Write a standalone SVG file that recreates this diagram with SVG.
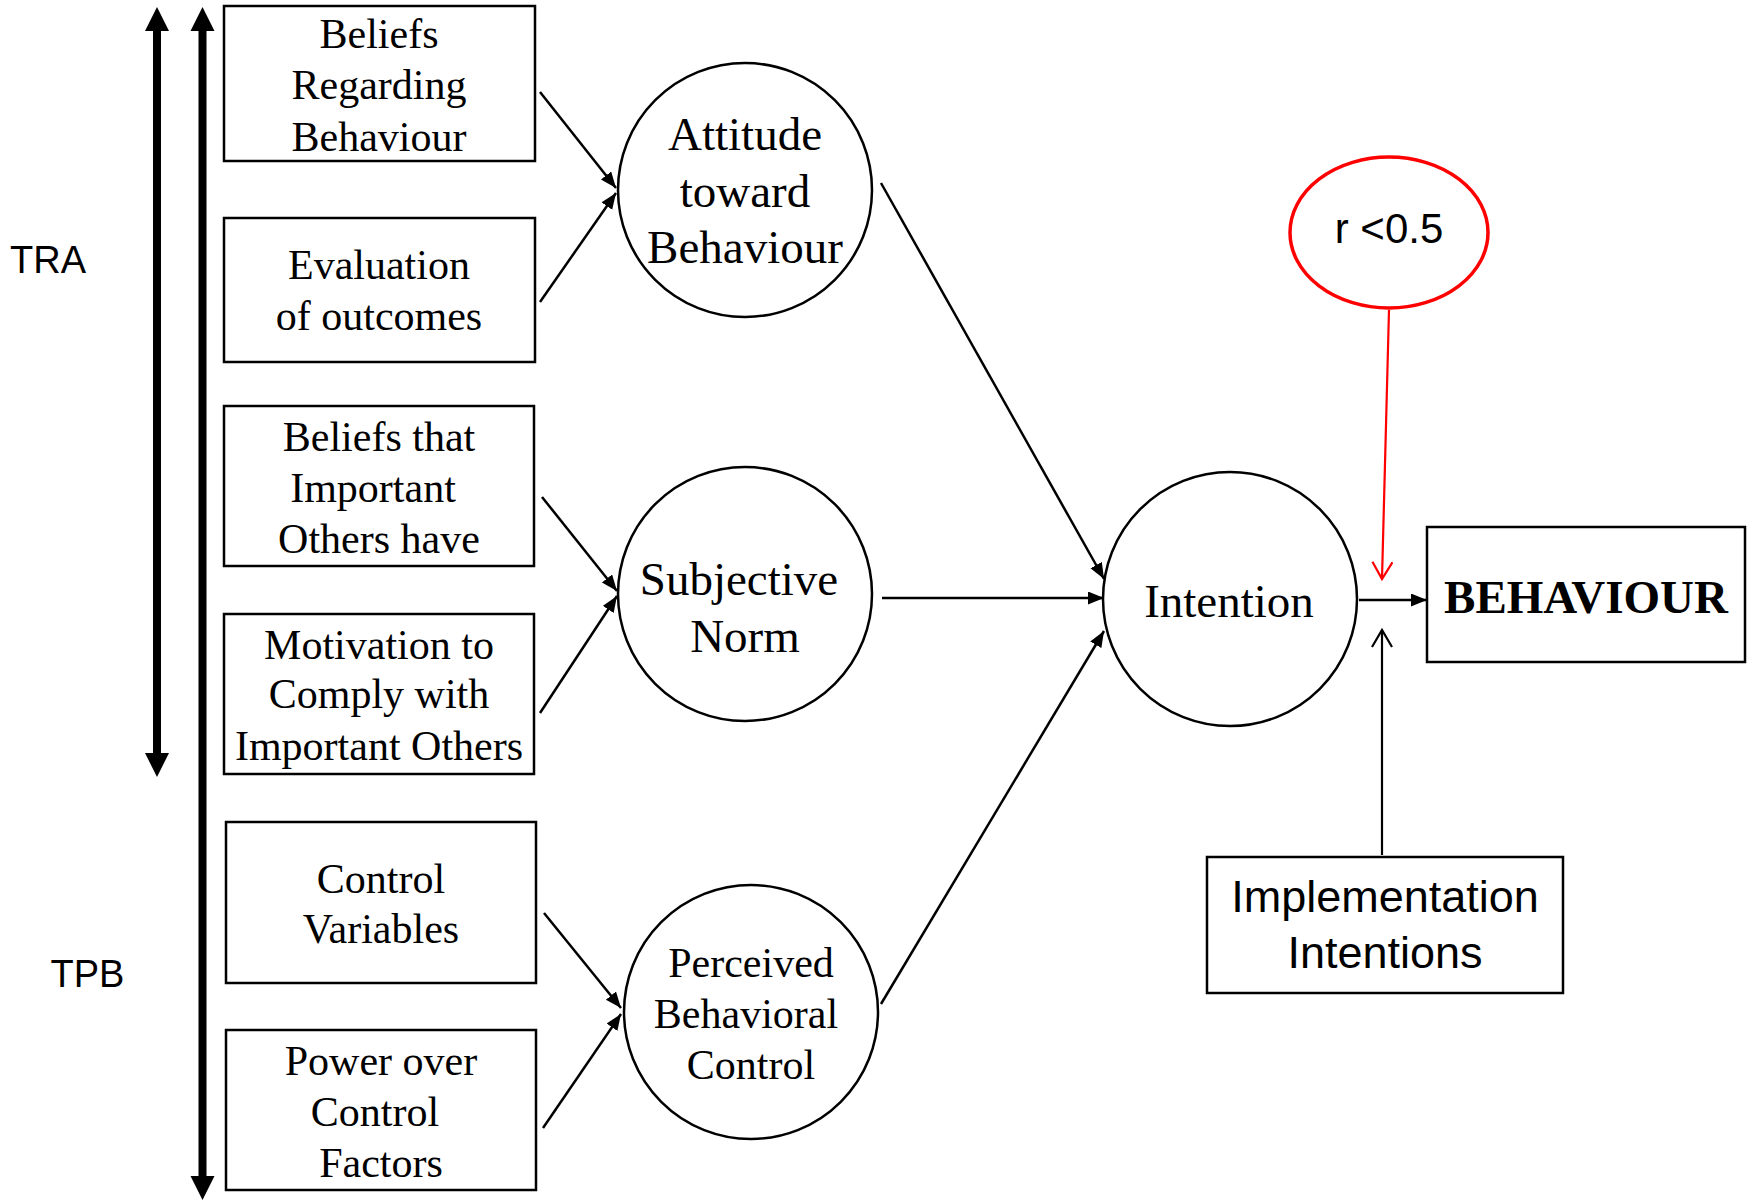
<svg xmlns="http://www.w3.org/2000/svg" width="1752" height="1201" viewBox="0 0 1752 1201">
  <style>
    .box { fill: #fff; stroke: #000; stroke-width: 2.5; }
    .node { fill: #fff; stroke: #000; stroke-width: 2.5; }
    .serif { font-family: "Liberation Serif", "Times New Roman", serif; fill: #000; text-anchor: middle; }
    .sans { font-family: "Liberation Sans", Arial, sans-serif; fill: #000; text-anchor: middle; }
    .bt { font-size: 42px; }
    .ct { font-size: 47px; }
    .link { stroke: #000; stroke-width: 2.5; fill: none; }
    .span { stroke: #000; stroke-width: 8; fill: none; }
  </style>
  <defs>
    <marker id="tri" markerUnits="userSpaceOnUse" markerWidth="18" markerHeight="14" refX="16" refY="6.5" orient="auto">
      <path d="M0,0 L16,6.5 L0,13 z" fill="#000"/>
    </marker>
    <marker id="vee" markerUnits="userSpaceOnUse" markerWidth="22" markerHeight="24" refX="18" refY="11" orient="auto">
      <path d="M1,1 L18,11 L1,21" fill="none" stroke="#000" stroke-width="2.2"/>
    </marker>
    <marker id="vee-red" markerUnits="userSpaceOnUse" markerWidth="22" markerHeight="24" refX="18" refY="11" orient="auto">
      <path d="M1,1 L18,11 L1,21" fill="none" stroke="#ff0000" stroke-width="2.2"/>
    </marker>
  </defs>
  <rect width="1752" height="1201" fill="#fff"/>

  <!-- theory scope markers -->
  <g id="scope">
    <line class="span" x1="157" y1="28" x2="157" y2="756"/>
    <polygon points="157,7 145,31 169,31" fill="#000"/>
    <polygon points="157,777 145,753 169,753" fill="#000"/>
    <line class="span" x1="202.5" y1="28" x2="202.5" y2="1179"/>
    <polygon points="202.5,7 190.5,31 214.5,31" fill="#000"/>
    <polygon points="202.5,1200 190.5,1176 214.5,1176" fill="#000"/>
    <text class="sans" x="48" y="273" font-size="38">TRA</text>
    <text class="sans" x="87.5" y="987" font-size="38">TPB</text>
  </g>

  <!-- belief boxes -->
  <g id="beliefs-behaviour">
    <rect class="box" x="224" y="6" width="311" height="155"/>
    <text class="serif bt" x="379" y="48">Beliefs</text>
    <text class="serif bt" x="379" y="99">Regarding</text>
    <text class="serif bt" x="379" y="151">Behaviour</text>
  </g>
  <g id="evaluation">
    <rect class="box" x="224" y="218" width="311" height="144"/>
    <text class="serif bt" x="379" y="279">Evaluation</text>
    <text class="serif bt" x="379" y="330">of outcomes</text>
  </g>
  <g id="beliefs-others">
    <rect class="box" x="224" y="406" width="310" height="160"/>
    <text class="serif bt" x="379" y="451">Beliefs that</text>
    <text class="serif bt" x="373" y="502">Important</text>
    <text class="serif bt" x="379" y="553">Others have</text>
  </g>
  <g id="motivation">
    <rect class="box" x="224" y="614" width="310" height="160"/>
    <text class="serif bt" x="379" y="659">Motivation to</text>
    <text class="serif bt" x="379" y="708">Comply with</text>
    <text class="serif bt" x="379" y="760">Important Others</text>
  </g>
  <g id="control-variables">
    <rect class="box" x="226" y="822" width="310" height="161"/>
    <text class="serif bt" x="381" y="893">Control</text>
    <text class="serif bt" x="381" y="943">Variables</text>
  </g>
  <g id="power-over">
    <rect class="box" x="226" y="1030" width="310" height="160"/>
    <text class="serif bt" x="381" y="1075">Power over</text>
    <text class="serif bt" x="375" y="1126">Control</text>
    <text class="serif bt" x="381" y="1177">Factors</text>
  </g>

  <!-- construct circles -->
  <g id="attitude">
    <circle class="node" cx="745" cy="190" r="127"/>
    <text class="serif ct" x="745" y="150">Attitude</text>
    <text class="serif ct" x="745" y="207">toward</text>
    <text class="serif ct" x="745" y="263">Behaviour</text>
  </g>
  <g id="subjective-norm">
    <circle class="node" cx="745" cy="594" r="127"/>
    <text class="serif ct" x="739" y="595">Subjective</text>
    <text class="serif ct" x="745" y="652">Norm</text>
  </g>
  <g id="perceived-control">
    <circle class="node" cx="751" cy="1012" r="127"/>
    <text class="serif bt" x="751" y="977">Perceived</text>
    <text class="serif bt" x="746" y="1028">Behavioral</text>
    <text class="serif bt" x="751" y="1079">Control</text>
  </g>
  <g id="intention">
    <circle class="node" cx="1230" cy="599" r="127"/>
    <text class="serif ct" x="1229" y="617">Intention</text>
  </g>
  <g id="behaviour">
    <rect class="box" x="1427" y="527" width="318" height="135" stroke-width="3"/>
    <text class="serif" x="1586" y="613" font-size="47" font-weight="bold">BEHAVIOUR</text>
  </g>
  <g id="correlation">
    <ellipse cx="1389" cy="232.5" rx="99" ry="75.5" fill="#fff" stroke="#ff0000" stroke-width="3.5"/>
    <text class="sans" x="1389" y="243" font-size="42">r &lt;0.5</text>
  </g>
  <g id="implementation">
    <rect class="box" x="1207" y="857" width="356" height="136"/>
    <text class="sans" x="1385" y="912" font-size="45">Implementation</text>
    <text class="sans" x="1385" y="968" font-size="45">Intentions</text>
  </g>

  <!-- connectors -->
  <g id="connectors">
    <line class="link" x1="540" y1="92" x2="616" y2="188" marker-end="url(#tri)"/>
    <line class="link" x1="540" y1="302" x2="616" y2="193" marker-end="url(#tri)"/>
    <line class="link" x1="542" y1="497" x2="617" y2="591" marker-end="url(#tri)"/>
    <line class="link" x1="540" y1="713" x2="617" y2="596" marker-end="url(#tri)"/>
    <line class="link" x1="544" y1="913" x2="621" y2="1008" marker-end="url(#tri)"/>
    <line class="link" x1="543" y1="1128" x2="621" y2="1014" marker-end="url(#tri)"/>
    <line class="link" x1="881" y1="183" x2="1104" y2="579" marker-end="url(#tri)"/>
    <line class="link" x1="882" y1="598" x2="1104" y2="598" marker-end="url(#tri)"/>
    <line class="link" x1="881" y1="1004" x2="1104" y2="631" marker-end="url(#tri)"/>
    <line class="link" x1="1359" y1="600" x2="1427" y2="600" marker-end="url(#tri)"/>
    <line x1="1389" y1="310" x2="1382" y2="579" stroke="#ff0000" stroke-width="2.2" marker-end="url(#vee-red)"/>
    <line x1="1382" y1="855" x2="1382" y2="630" stroke="#000" stroke-width="2.2" marker-end="url(#vee)"/>
  </g>
</svg>
